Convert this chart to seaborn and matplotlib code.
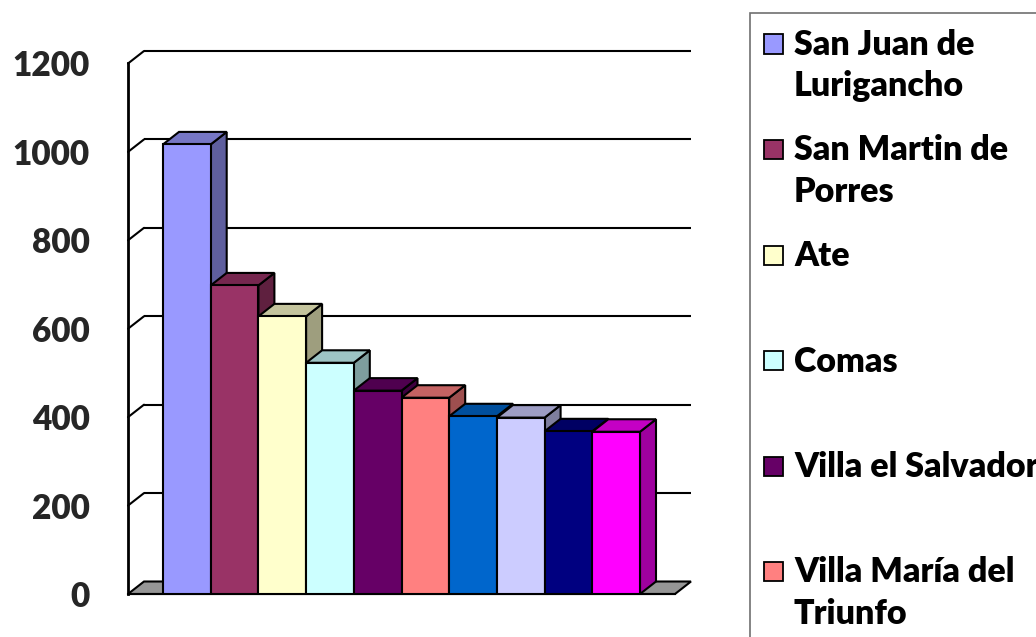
import numpy as np
import pandas as pd
import matplotlib
matplotlib.use("Agg")
import matplotlib.pyplot as plt
import seaborn as sns
from matplotlib.patches import Polygon, Rectangle
from matplotlib.colors import to_rgb

# Lima districts with the most inhabitants (thousands)
districts = [
    "San Juan de\nLurigancho",
    "San Martin de\nPorres",
    "Ate",
    "Comas",
    "Villa el Salvador",
    "Villa María del\nTriunfo",
    "Los Olivos",
    "Puente Piedra",
    "Santiago de\nSurco",
    "Chorrillos",
]
values = [1017, 698, 628, 523, 460, 444, 402, 399, 368, 367]
colors = ["#9999FF", "#993366", "#FFFFCC", "#CCFFFF", "#660066",
          "#FF8080", "#0066CC", "#CCCCFF", "#000080", "#FF00FF"]
y_ticks = [0, 200, 400, 600, 800, 1000, 1200]

W, H = 1036, 637
sns.set_style("white")
plt.rcParams["font.family"] = ["Lato", "DejaVu Sans"]

fig = plt.figure(figsize=(W / 100, H / 100), dpi=100)
ax = fig.add_axes([128 / W, (H - 594) / H, (675 - 128) / W, (594 - 63.5) / H])

df = pd.DataFrame({"grupo": [""] * len(values), "habitantes": values, "distrito": districts})
sns.barplot(data=df, x="grupo", y="habitantes", hue="distrito", hue_order=districts,
            palette=colors, saturation=1, width=0.8, dodge=True,
            edgecolor="black", linewidth=1.5, legend=False, ax=ax)

xl, xr = -0.4587, 0.4587
ax.set_xlim(xl, xr)
ax.set_ylim(0, 1200)

# depth offsets of the pseudo-3D box (screen pixels -> data units)
ax_w_px = 675 - 128
ax_h_px = 594 - 63.5
dx = 16 * (xr - xl) / ax_w_px
dy = 12.5 * 1200 / ax_h_px


def shade(c, f):
    r, g, b = to_rgb(c)
    return (r * f, g * f, b * f)


# floor
ax.add_patch(Polygon([(xl, 0), (xr, 0), (xr + dx, dy), (xl + dx, dy)], closed=True,
                     facecolor="#969696", edgecolor="black", linewidth=1.5,
                     zorder=1.5, clip_on=False))

# back-wall gridlines with connectors to the value axis
for v in y_ticks[1:]:
    ax.plot([xl + dx, xr + dx], [v + dy, v + dy], color="black", lw=1.5,
            zorder=1, clip_on=False, solid_capstyle="butt")
    ax.plot([xl, xl + dx], [v, v + dy], color="black", lw=1.5,
            zorder=1, clip_on=False)

# top and side faces for every bar, left to right
bars = sorted([p for p in ax.patches if isinstance(p, Rectangle)], key=lambda p: p.get_x())
for i, (p, c) in enumerate(zip(bars, colors)):
    x0 = p.get_x()
    x1 = x0 + p.get_width()
    h = p.get_height()
    z = 3 + i * 0.1
    ax.add_patch(Polygon([(x1, 0), (x1 + dx, dy), (x1 + dx, h + dy), (x1, h)], closed=True,
                         facecolor=shade(c, 0.62), edgecolor="black", linewidth=1.5,
                         joinstyle="miter", zorder=z, clip_on=False))
    ax.add_patch(Polygon([(x0, h), (x1, h), (x1 + dx, h + dy), (x0 + dx, h + dy)], closed=True,
                         facecolor=shade(c, 0.77), edgecolor="black", linewidth=1.5,
                         joinstyle="miter", zorder=z, clip_on=False))
    p.set_zorder(z + 0.05)
    p.set_joinstyle("miter")

for s in ["top", "right"]:
    ax.spines[s].set_visible(False)
ax.spines["left"].set_linewidth(2)
ax.spines["left"].set_color("black")
ax.spines["bottom"].set_linewidth(1.5)
ax.spines["bottom"].set_color("black")
ax.spines["left"].set_zorder(5)

ax.set_yticks(y_ticks)
ax.set_yticklabels([str(t) for t in y_ticks], fontsize=24, fontweight="heavy")
ax.tick_params(axis="y", length=8.6, width=1.5, color="#606060", direction="out", pad=19)
ax.set_xticks([xl, xr])
ax.set_xticklabels(["", ""])
ax.tick_params(axis="x", length=8.6, width=1.2, color="black", direction="out")
ax.set_xlabel("")
ax.set_ylabel("")


# legend box, drawn in figure pixels
def fx(px):
    return px / W


def fy(py):
    return (H - py) / H


fig.patches.append(Rectangle((fx(749.5), fy(720)), fx(1100) - fx(749.5), fy(13) - fy(720),
                             transform=fig.transFigure, facecolor="white",
                             edgecolor="#707070", linewidth=1.2, zorder=0))
for i, (lab, c) in enumerate(zip(districts, colors)):
    yc = 44 + i * 105.5
    if yc - 12 > H:
        continue
    fig.patches.append(Rectangle((fx(764), fy(yc + 9.5)), fx(783) - fx(764), fy(yc - 9.5) - fy(yc + 9.5),
                                 transform=fig.transFigure, facecolor=c,
                                 edgecolor="black", linewidth=1.3, zorder=2))
    for j, line in enumerate(lab.split("\n")):
        fig.text(fx(794), fy(yc + 11 + j * 41), line, fontsize=24.5, fontweight="heavy",
                 ha="left", va="baseline", color="black")

fig.savefig("out.png", dpi=100)
